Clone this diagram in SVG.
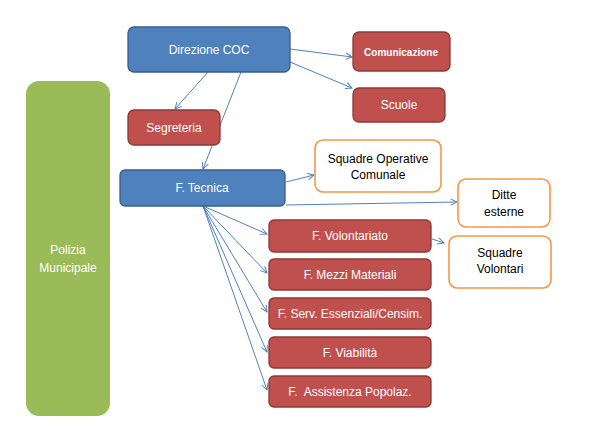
<svg xmlns="http://www.w3.org/2000/svg" width="591" height="434" viewBox="0 0 591 434">
<defs>
<style>
.blue{fill:#4F81BD;stroke:#385D8A;stroke-width:1.3}
.red{fill:#C0504D;stroke:#8C3836;stroke-width:1.3}
.green{fill:#9BBB59;stroke:none}
.orange{fill:#FFFFFF;stroke:#F79646;stroke-width:1.6}
text{font-family:"Liberation Sans",Arial,sans-serif;font-size:12px;text-anchor:middle;dominant-baseline:central}
.w{fill:#FFFFFF}
.k{fill:#000000}
.conn line{stroke:#4F81BD;stroke-width:1;fill:none;marker-end:url(#arr)}
</style>
<marker id="arr" viewBox="0 0 10 10" refX="9" refY="5" markerWidth="8" markerHeight="8" markerUnits="userSpaceOnUse" orient="auto">
<polyline points="1,1 9,5 1,9" fill="none" stroke="#4F81BD" stroke-width="1.2"/>
</marker>
</defs>
<rect width="591" height="434" fill="#FFFFFF"/>
<g id="polizia"><rect class="green" x="26" y="81" width="84" height="335" rx="13"/><text class="w" x="68" y="250">Polizia</text><text class="w" x="68" y="268">Municipale</text></g>
<g class="conn" id="connectors">
<line x1="290" y1="49" x2="352" y2="57"/>
<line x1="290" y1="62" x2="352" y2="88"/>
<line x1="208" y1="72" x2="175" y2="109"/>
<line x1="241" y1="72" x2="203" y2="169"/>
<line x1="286" y1="182" x2="314" y2="175"/>
<line x1="286" y1="205" x2="457" y2="202"/>
<line x1="203" y1="206" x2="267" y2="234"/>
<line x1="203" y1="206" x2="267" y2="273"/>
<line x1="203" y1="206" x2="267" y2="312"/>
<line x1="203" y1="206" x2="267" y2="352"/>
<line x1="203" y1="206" x2="267" y2="390"/>
<line x1="432" y1="239" x2="444" y2="243"/>
</g>
<g id="direzione"><rect class="blue" x="128" y="27" width="162" height="45" rx="6"/><text class="w" x="209" y="50">Direzione COC</text></g>
<g id="comunicazione"><rect class="red" x="353" y="32" width="97" height="39" rx="6"/><text class="w" x="401" y="52" style="font-size:10px;font-weight:bold">Comunicazione</text></g>
<g id="scuole"><rect class="red" x="353" y="88" width="92" height="34" rx="6"/><text class="w" x="399" y="105">Scuole</text></g>
<g id="segreteria"><rect class="red" x="128" y="110" width="92" height="35" rx="6"/><text class="w" x="174" y="128">Segreteria</text></g>
<g id="tecnica"><rect class="blue" x="120" y="170" width="165" height="36" rx="5"/><text class="w" x="202" y="188">F. Tecnica</text></g>
<g id="squadre-operative"><rect class="orange" x="315" y="140" width="126" height="52" rx="8"/><text class="k" x="378" y="159">Squadre Operative</text><text class="k" x="378" y="175">Comunale</text></g>
<g id="ditte"><rect class="orange" x="458" y="179" width="92" height="48" rx="8"/><text class="k" x="504" y="195">Ditte</text><text class="k" x="504" y="212">esterne</text></g>
<g id="volontariato"><rect class="red" x="269" y="220" width="162" height="32" rx="5"/><text class="w" x="350" y="236">F. Volontariato</text></g>
<g id="mezzi"><rect class="red" x="269" y="259" width="162" height="31" rx="5"/><text class="w" x="350" y="274.5">F. Mezzi Materiali</text></g>
<g id="serv"><rect class="red" x="269" y="298" width="162" height="31" rx="5"/><text class="w" x="350" y="313.5">F. Serv. Essenziali/Censim.</text></g>
<g id="viabilita"><rect class="red" x="269" y="337" width="162" height="31" rx="5"/><text class="w" x="350" y="352.5">F. Viabilità</text></g>
<g id="assistenza"><rect class="red" x="269" y="376" width="162" height="31" rx="5"/><text class="w" x="350" y="391.5" xml:space="preserve">F.  Assistenza Popolaz.</text></g>
<g id="squadre-volontari"><rect class="orange" x="449" y="236" width="102" height="52" rx="8"/><text class="k" x="500" y="253">Squadre</text><text class="k" x="500" y="269">Volontari</text></g>
</svg>
